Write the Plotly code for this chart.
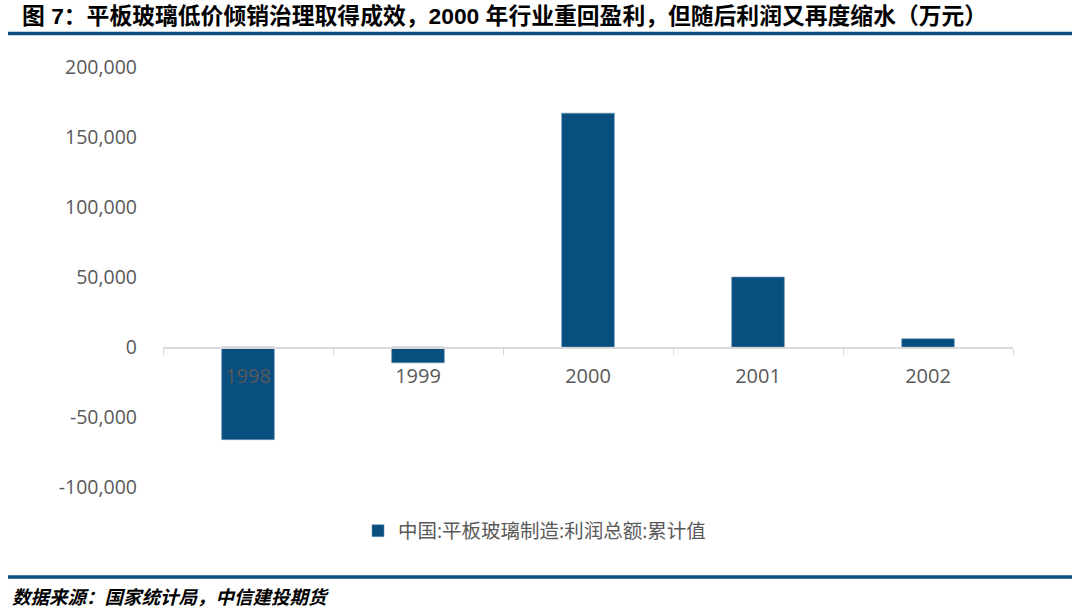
import plotly.graph_objects as go

# Data (万元)
years = ['1998', '1999', '2000', '2001', '2002']
profit = [-66200, -11300, 167000, 50000, 5900]
series_name = '中国:平板玻璃制造:利润总额:累计值'
y_ticks = [-100000, -50000, 0, 50000, 100000, 150000, 200000]
y_tick_text = ['-100,000', '-50,000', '0', '50,000', '100,000', '150,000', '200,000']

title_text = '图 7：平板玻璃低价倾销治理取得成效，2000 年行业重回盈利，但随后利润又再度缩水（万元）'
source_text = '数据来源：国家统计局，中信建投期货'

W, H = 1080, 613
blue = '#084f7f'
grey = '#595959'
cjk = 'Open Sans, Noto Sans CJK SC, sans-serif'


def px_x(x):
    return x / W


def px_y(y):
    return 1 - y / H


fig = go.Figure()
fig.add_trace(go.Bar(x=years, y=profit, name=series_name,
                     marker=dict(color=blue, line=dict(color='#6a95b8', width=0.6))))

fig.update_layout(
    width=W, height=H,
    margin=dict(l=0, r=0, t=0, b=0, pad=0),
    paper_bgcolor='white', plot_bgcolor='white',
    bargap=0.69,
    showlegend=True,
    legend=dict(orientation='h', x=px_x(358), y=px_y(531), xanchor='left', yanchor='middle',
                font=dict(family=cjk, size=19.5, color=grey), bgcolor='rgba(0,0,0,0)'),
    xaxis=dict(domain=[px_x(163), px_x(1013)], anchor='free', position=px_y(348.3),
               automargin=False,
               showline=True, linecolor='#d9d9d9', linewidth=1.5,
               ticks='outside', tickson='boundaries', ticklen=6, tickcolor='#d9d9d9',
               tickfont=dict(family=cjk, size=20, color=grey), ticklabelstandoff=10,
               showgrid=False, zeroline=False),
    yaxis=dict(domain=[px_y(487), px_y(67)], range=[-100000, 200000], automargin=False,
               tickvals=y_ticks, ticktext=y_tick_text, showgrid=False, zeroline=False,
               showline=False, tickfont=dict(family=cjk, size=19.5, color=grey),
               ticklabelstandoff=25),
)

# title and source
fig.add_annotation(text='<b>' + title_text + '</b>', xref='paper', yref='paper',
                   x=px_x(20), y=px_y(16), xanchor='left', yanchor='middle', showarrow=False,
                   font=dict(family='Liberation Sans, Noto Sans CJK SC', size=22.8, color='black'))
fig.add_annotation(text='<b><i>' + source_text + '</i></b>', xref='paper', yref='paper',
                   x=px_x(10), y=px_y(596), xanchor='left', yanchor='middle', showarrow=False,
                   font=dict(family='Noto Sans CJK SC', size=18.5, color='black'))

# rules under title and above source
for yy in (33.5, 577):
    fig.add_shape(type='line', xref='paper', yref='paper', x0=px_x(8), x1=px_x(1072),
                  y0=px_y(yy), y1=px_y(yy), line=dict(color=blue, width=3.5))

# page has a default body margin; drop it so the figure sits at the window corner
fig.write_html('out.html', config={'displayModeBar': False},
               post_script="document.body.style.margin='0';")
